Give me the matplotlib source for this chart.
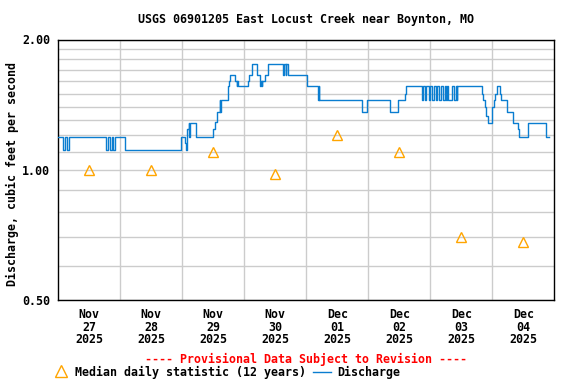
import numpy as np
import matplotlib
matplotlib.use('Agg')
import matplotlib.pyplot as plt
from matplotlib.lines import Line2D
from matplotlib.ticker import FixedLocator, NullFormatter, FixedFormatter

# Discharge (cfs), step values; time in hours since 2025-11-27 00:00
t_hours = [0, 2.0, 2.75, 3.5, 4.25, 18.5, 19.25, 20.0, 20.75, 21.25, 22.0, 25.75,
           47.5, 49.0, 49.5, 50.0, 50.5, 50.75, 51.0, 53.25, 59.75, 60.75, 61.25,
           62.5, 62.75, 63.0, 65.5, 66.25, 66.5, 68.5, 69.0, 69.25, 69.5, 73.25,
           73.75, 75.0, 76.75, 78.0, 78.25, 78.5, 78.75, 79.0, 80.0, 81.0, 87.0,
           87.25, 88.0, 88.25, 88.75, 96.25, 100.5, 100.75, 101.0, 117.5, 119.5,
           128.5, 131.5, 134.25, 134.5,
           140.75, 141.0, 142.0, 142.5, 143.5, 143.75, 144.5, 145.25, 146.25, 146.75,
           147.5, 148.0, 149.0, 149.75, 150.25, 150.5, 151.0, 152.25, 153.0, 154.0,
           154.25, 154.5,
           164.0, 164.5, 165.25, 165.5, 165.75, 166.25, 168.0, 168.5, 169.0, 170.0,
           171.0, 171.5, 173.75, 176.0, 178.0, 178.5, 182.0, 188.75, 190.0]
discharge = [1.19, 1.11, 1.19, 1.11, 1.19, 1.11, 1.19, 1.11, 1.19, 1.11, 1.19, 1.11,
             1.19, 1.15, 1.11, 1.24, 1.28, 1.19, 1.28, 1.19, 1.24, 1.29, 1.36,
             1.45, 1.36, 1.45, 1.56, 1.60, 1.66, 1.60, 1.56, 1.60, 1.56, 1.60,
             1.66, 1.76, 1.66, 1.60, 1.56, 1.60, 1.56, 1.60, 1.66, 1.76, 1.66,
             1.76, 1.66, 1.76, 1.66, 1.56, 1.45, 1.56, 1.45, 1.36, 1.45,
             1.36, 1.45, 1.50, 1.56,
             1.45, 1.56, 1.45, 1.56, 1.45, 1.56, 1.45, 1.56, 1.45, 1.56,
             1.45, 1.56, 1.45, 1.56, 1.45, 1.56, 1.45, 1.56, 1.45, 1.56,
             1.45, 1.56,
             1.50, 1.45, 1.40, 1.36, 1.33, 1.28, 1.40, 1.45, 1.50, 1.56,
             1.50, 1.45, 1.36, 1.28, 1.24, 1.19, 1.28, 1.19, 1.19]

# Median daily statistic (12 years), one per day at noon
day_labels = ['Nov\n27\n2025', 'Nov\n28\n2025', 'Nov\n29\n2025', 'Nov\n30\n2025',
              'Dec\n01\n2025', 'Dec\n02\n2025', 'Dec\n03\n2025', 'Dec\n04\n2025']
median_vals = [1.00, 1.00, 1.10, 0.98, 1.20, 1.10, 0.70, 0.68]

FONT = 'DejaVu Sans Mono'
FS = 8.4
BLUE = '#0a7dd0'
ORANGE = '#ffa500'

plt.rcParams['font.family'] = FONT
plt.rcParams['font.weight'] = 'bold'

fig = plt.figure(figsize=(5.76, 3.84), dpi=100)
ax = fig.add_axes([58.3/576, 1 - 300/384, 496/576, 260.5/384])

noon = np.arange(len(median_vals)) * 24 + 12
ax.step(t_hours, discharge, where='post', color=BLUE, linewidth=1.0, zorder=3)
ax.plot(noon, median_vals, linestyle='none', marker='^', markersize=7.5,
        markerfacecolor='none', markeredgecolor=ORANGE, markeredgewidth=1.0, zorder=4)

ax.set_yscale('log')
ax.set_ylim(0.5, 2.0)
ax.set_xlim(0, 192)

ax.yaxis.set_major_locator(FixedLocator([0.5, 1.0, 2.0]))
ax.yaxis.set_major_formatter(FixedFormatter(['0.50', '1.00', '2.00']))
ax.yaxis.set_minor_locator(FixedLocator([0.6, 0.7, 0.8, 0.9, 1.1, 1.2, 1.3, 1.4,
                                         1.5, 1.6, 1.7, 1.8, 1.9]))
ax.yaxis.set_minor_formatter(NullFormatter())

ax.set_xticks(noon)
ax.set_xticklabels(day_labels, linespacing=0.95)
ax.set_xticks(np.arange(24, 192, 24), minor=True)

ax.grid(True, which='minor', color='#cccccc', linewidth=1.0)
ax.grid(True, which='major', axis='y', color='#cccccc', linewidth=1.0)
ax.tick_params(which='both', length=0, labelsize=FS)
ax.tick_params(axis='x', pad=6)
ax.tick_params(axis='y', pad=6)
for sp in ax.spines.values():
    sp.set_linewidth(1.0)
    sp.set_color('black')

ax.set_ylabel('Discharge, cubic feet per second', fontsize=FS, fontweight='bold')
ax.yaxis.set_label_coords((19 - 58.3) / 496, (300 - 174.5) / 260.5)

fig.text(306/576, 1 - 19/384, 'USGS 06901205 East Locust Creek near Boynton, MO',
         ha='center', va='center', fontsize=FS, fontweight='bold')
fig.text(306/576, 1 - 359/384, '---- Provisional Data Subject to Revision ----',
         ha='center', va='center', fontsize=FS, fontweight='bold', color='red')

# legend row
ly = 1 - 372/384
fig.add_artist(Line2D([61/576], [1 - 371/384], marker='^', markersize=8,
                      markerfacecolor='none', markeredgecolor=ORANGE,
                      markeredgewidth=1.0, transform=fig.transFigure))
fig.text(75/576, ly, 'Median daily statistic (12 years)', ha='left', va='center',
         fontsize=FS, fontweight='bold')
fig.add_artist(Line2D([313/576, 331/576], [ly, ly], color=BLUE, linewidth=1.0,
                      transform=fig.transFigure))
fig.text(337/576, ly, 'Discharge', ha='left', va='center', fontsize=FS, fontweight='bold')

fig.savefig('out.png', dpi=100)
